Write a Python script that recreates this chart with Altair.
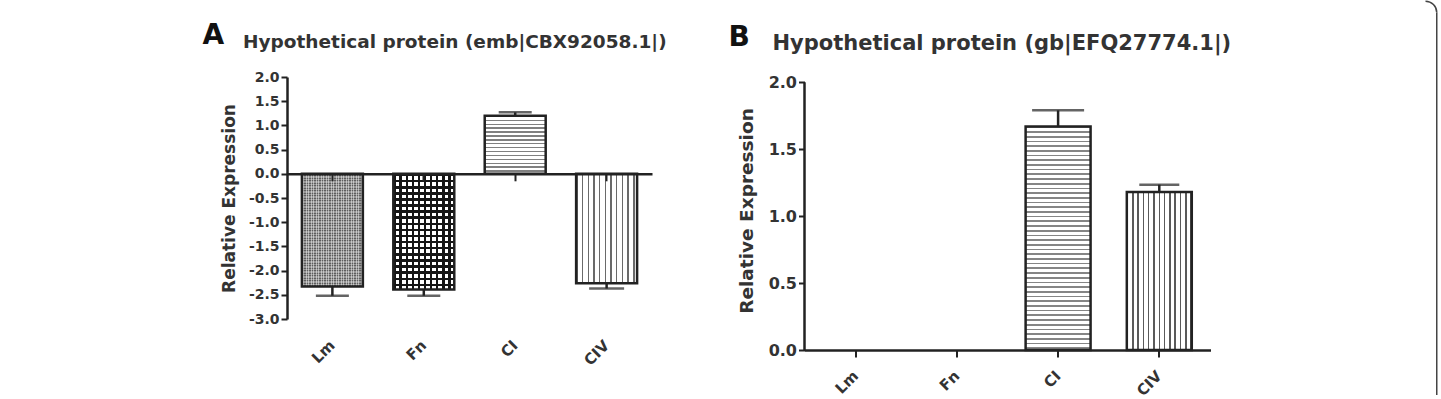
import altair as alt
import pandas as pd

# ---------------- data ----------------
categories = ["Lm", "Fn", "CI", "CIV"]
a_mean = [-2.33, -2.39, 1.20, -2.26]
a_err = [0.19, 0.13, 0.07, 0.11]
b_mean = [0.0, 0.0, 1.67, 1.18]
b_err = [0.0, 0.0, 0.12, 0.055]
a_ticks = [-3.0, -2.5, -2.0, -1.5, -1.0, -0.5, 0.0, 0.5, 1.0, 1.5, 2.0]
b_ticks = [0.0, 0.5, 1.0, 1.5, 2.0]
y_title = "Relative Expression"
a_letter = "A"
a_title = "Hypothetical protein (emb|CBX92058.1|)"
b_letter = "B"
b_title = "Hypothetical protein (gb|EFQ27774.1|)"

# ---------------- style ----------------
FONT = "DejaVu Sans"
INK = "#222222"
TXT = "#333333"
A_W, A_H, A_DOM = 365, 242, [-3.0, 2.0]
B_W, B_H, B_DOM = 406, 273, [0.0, 2.039]
GAP = 152.5


def frame(mean, err):
    end = [m + (e if m >= 0 else -e) for m, e in zip(mean, err)]
    return pd.DataFrame({"cat": categories, "mean": mean, "err": err, "end": end})


def stripes(horizontal_lines, length, period, line, c_line, c_bg):
    stops = []
    pos = 0.0
    while pos < length - 1e-6:
        a = round(pos / length, 5)
        b = round(min((pos + line) / length, 1.0), 5)
        c = round(min((pos + period) / length, 1.0), 5)
        stops += [{"offset": a, "color": c_line}, {"offset": b, "color": c_line},
                  {"offset": b, "color": c_bg}, {"offset": c, "color": c_bg}]
        pos += period
    g = {"gradient": "linear", "stops": stops, "x1": 0, "y1": 0}
    if horizontal_lines:
        g.update(x2=0, y2=1)
    else:
        g.update(x2=1, y2=0)
    return g


def text_mark(text, x, y, size, color):
    return alt.Chart(alt.Data(values=[{}])).mark_text(
        text=text, align="left", baseline="alphabetic", font=FONT,
        fontWeight="bold", fontSize=size, color=color
    ).encode(x=alt.value(x), y=alt.value(y))


def y_axis(values, domain, label_size, title_size, title_y):
    return alt.Axis(
        values=values, grid=False, domain=domain, domainColor=INK, domainWidth=2.5,
        ticks=True, tickSize=6, tickWidth=2, tickColor=INK,
        labelExpr="(datum.value < 0 ? '-' : '') + format(abs(datum.value), '.1f')",
        labelFont=FONT, labelFontWeight="bold", labelFontSize=label_size,
        labelColor=TXT, labelPadding=2, labelOverlap=False,
        title=y_title, titleFont=FONT, titleFontWeight="bold", titleFontSize=title_size,
        titleColor=TXT, titleAngle=270, titleX=-58, titleY=title_y,
        titleAlign="center", titleBaseline="middle",
    )


def x_axis(offset, label_pad, label_size):
    return alt.Axis(
        orient="bottom", offset=offset, grid=False, domain=True, domainColor=INK,
        domainWidth=2.5, ticks=True, tickSize=7, tickWidth=2, tickColor=INK,
        labelAngle=-45, labelAlign="right", labelBaseline="middle",
        labelPadding=label_pad, labelFont=FONT, labelFontWeight="bold",
        labelFontSize=label_size, labelColor=TXT, title=None, zindex=1,
    )


def panel(df, W, H, dom, pad_in, pad_out, xax, yax, patterns, caps, extra):
    xs = alt.Scale(domain=categories, paddingInner=pad_in, paddingOuter=pad_out)
    ys = alt.Scale(domain=dom, nice=False, zero=False)
    X = alt.X("cat:N", scale=xs, axis=xax)

    def Y(field):
        return alt.Y(field, scale=ys, axis=yax)

    base = alt.Chart(df)
    layers = []
    for cat, fills in patterns:
        for f in fills:
            layers.append(
                base.mark_bar(fill=f, strokeWidth=0).encode(x=X, y=Y("mean:Q"))
                .transform_filter(alt.datum.cat == cat)
            )
    layers.append(
        base.mark_bar(fill="transparent", stroke=INK, strokeWidth=2.5)
        .encode(x=X, y=Y("mean:Q")).transform_filter(alt.datum.mean != 0)
    )
    layers.append(
        base.mark_rule(color=INK, strokeWidth=2.5)
        .encode(x=X, y=Y("mean:Q"), y2="end:Q").transform_filter(alt.datum.err > 0)
    )
    for cat, size in caps:
        layers.append(
            base.mark_tick(orient="horizontal", size=size, thickness=2.5, color=INK)
            .encode(x=X, y=Y("end:Q"))
            .transform_filter((alt.datum.cat == cat) & (alt.datum.err > 0))
        )
    layers += extra(Y)
    return alt.layer(*layers).properties(width=W, height=H)


# ---------- panel A ----------
dfa = frame(a_mean, a_err)
a_ppu = A_H / (A_DOM[1] - A_DOM[0])
a_bw = 61
a_h = {c: abs(m) * a_ppu for c, m in zip(categories, a_mean)}
a_zero = A_H * A_DOM[1] / (A_DOM[1] - A_DOM[0])
a_patterns = [
    ("Lm", [stripes(False, a_bw, 2.5, 1.25, "#5e5e5e", "#aaaaaa"),
            stripes(True, a_h["Lm"], 2.5, 1.25, "rgba(255,255,255,0.35)", "rgba(255,255,255,0)")]),
    ("Fn", [stripes(False, a_bw, 6.1, 2.5, "#151515", "#ffffff"),
            stripes(True, a_h["Fn"], 6.1, 2.5, "#151515", "rgba(255,255,255,0)")]),
    ("CI", [stripes(True, a_h["CI"], 3.9, 1.4, "#808080", "#ffffff")]),
    ("CIV", [stripes(False, a_bw, 5.7, 1.4, "#6a6a6a", "#ffffff")]),
]


def a_extra(Y):
    return [
        text_mark(a_letter, -84.5, -33, 28, "#111111"),
        text_mark(a_title, -44, -29.5, 18.5, TXT),
    ]


chart_a = panel(
    dfa, A_W, A_H, A_DOM, 0.333, 0.163,
    x_axis(a_zero - A_H, 161.7, 15),
    y_axis(a_ticks, True, 14, 17, A_H / 2),
    a_patterns, [("Lm", 33), ("Fn", 33), ("CI", 33), ("CIV", 35)], a_extra,
)

# ---------- panel B ----------
dfb = frame(b_mean, b_err)
b_ppu = B_H / (B_DOM[1] - B_DOM[0])
b_bw = 65
b_h = {c: abs(m) * b_ppu for c, m in zip(categories, b_mean)}
b_patterns = [
    ("CI", [stripes(True, b_h["CI"], 4.7, 1.7, "#858585", "#ffffff")]),
    ("CIV", [stripes(False, b_bw, 5.3, 1.5, "#5a5a5a", "#ffffff")]),
]


def b_extra(Y):
    one = alt.Data(values=[{"mean": b_ticks[0], "end": b_ticks[-1]}])
    return [
        alt.Chart(one).mark_rule(color=INK, strokeWidth=2.5).encode(
            x=alt.value(0), y=Y("mean:Q"), y2="end:Q"),
        text_mark(b_letter, -76, -31.5, 28, "#111111"),
        text_mark(b_title, -32, -27.5, 21, TXT),
        alt.Chart(alt.Data(values=[{}])).mark_arc(
            radius=12, radius2=10.5, theta=0, theta2=1.5708, color="#444444"
        ).encode(x=alt.value(621), y=alt.value(-64.5)),
        alt.Chart(alt.Data(values=[{}])).mark_rule(color="#444444", strokeWidth=1.5).encode(
            x=alt.value(632.25), y=alt.value(-64.5), y2=alt.value(318)),
    ]


chart_b = panel(
    dfb, B_W, B_H, B_DOM, 0.358, 0.185,
    x_axis(0, 16, 15),
    y_axis(b_ticks, False, 16, 18.5, 133.5),
    b_patterns, [("CI", 52), ("CIV", 40)], b_extra,
)

chart = alt.hconcat(chart_a, chart_b, spacing=GAP, bounds="flush").properties(
    padding={"left": 202, "top": 0, "right": 0, "bottom": 0},
    background="white",
).configure_view(stroke="transparent")

chart.save("out.html", embed_options={"renderer": "svg", "actions": False})
